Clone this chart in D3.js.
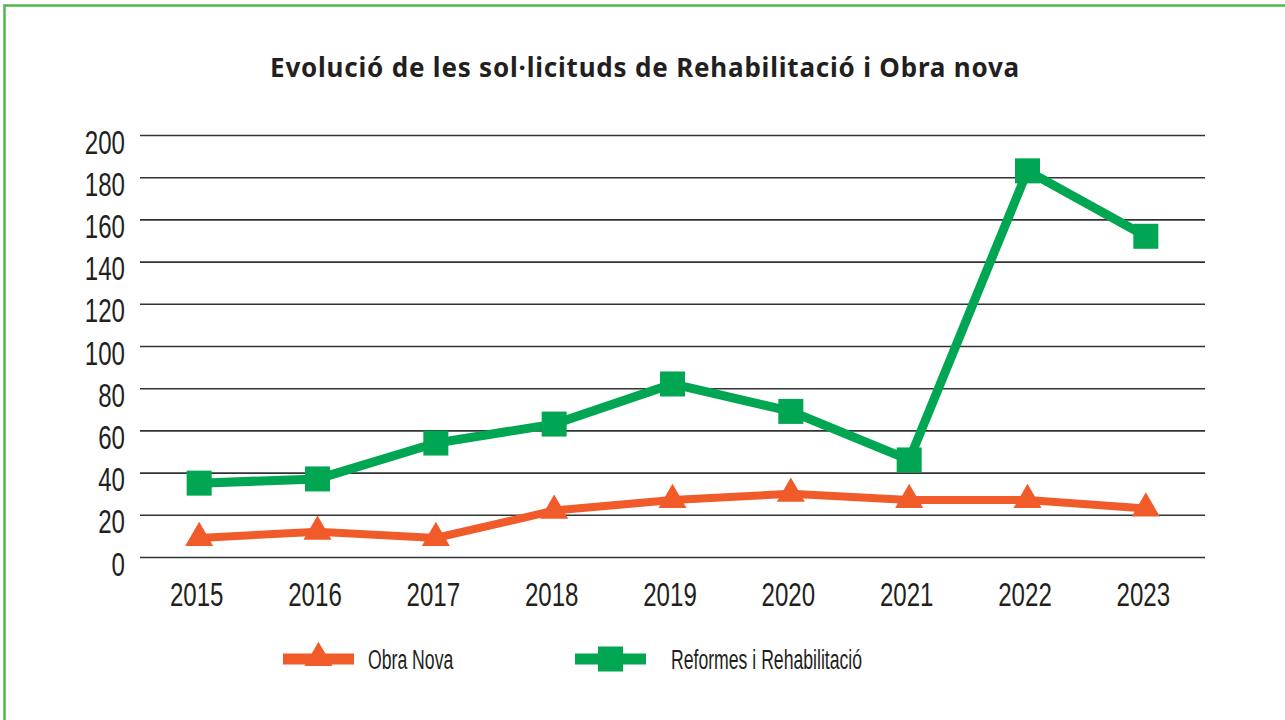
<html><head>
<meta charset="UTF-8">
<title>Evolució de les sol·licituds</title>
<style>
  body { margin: 0; padding: 0; background: #fff; overflow: hidden; }
  svg { display: block; }
  .tick text { font-family: "Liberation Sans Narrow", "Liberation Sans", sans-serif; fill: #231f20; }
</style>
</head>
<body>
<div id="chart"></div>
<script src="https://d3js.org/d3.v7.min.js"></script>
<script>
  const years = ["2015", "2016", "2017", "2018", "2019", "2020", "2021", "2022", "2023"];
  const obraNova = [9, 12, 9, 22, 27, 30, 27, 27, 23];
  const reformes = [35, 37, 54, 63, 82, 69, 46, 183, 152];
  const yTicks = [0, 20, 40, 60, 80, 100, 120, 140, 160, 180, 200];
  const seriesNames = ["Obra Nova", "Reformes i Rehabilitació"];
  const title = "Evolució de les sol·licituds de Rehabilitació i Obra nova";

  const width = 1285, height = 720;
  const plotLeft = 140, plotRight = 1205, plotTop = 135, plotBottom = 557;
  const orange = "#f15a29", green = "#00a651";
  const squeeze = 0.73; // condensed look for the labels
  const legSqueeze = 0.63;

  const svg = d3.select("#chart").append("svg")
    .attr("width", width)
    .attr("height", height);

  // green frame round the whole chart
  svg.append("rect")
    .attr("x", 4.5).attr("y", 5.5)
    .attr("width", width + 10).attr("height", height + 10)
    .attr("fill", "none")
    .attr("stroke", "#4db848")
    .attr("stroke-width", 2.5);

  svg.append("text")
    .attr("x", 645).attr("y", 77)
    .attr("text-anchor", "middle")
    .attr("font-family", "'Noto Sans', sans-serif")
    .attr("font-weight", "bold")
    .attr("font-size", 26)
    .attr("letter-spacing", 0.8)
    .attr("fill", "#231f20")
    .text(title);

  const x = d3.scalePoint().domain(years).range([plotLeft, plotRight]).padding(0.5);
  const y = d3.scaleLinear().domain([0, 200]).range([plotBottom, plotTop]);

  // grid + y labels
  const yAxis = svg.append("g")
    .attr("transform", `translate(${plotLeft},0)`)
    .call(d3.axisLeft(y).tickValues(yTicks).tickSize(-(plotRight - plotLeft)));
  yAxis.select(".domain").remove();
  yAxis.selectAll(".tick line").attr("stroke", "#333").attr("stroke-width", 1.6);
  yAxis.selectAll(".tick text")
    .attr("font-size", 33)
    .attr("x", -15 / squeeze)
    .attr("dy", "0.55em")
    .attr("transform", `scale(${squeeze},1)`);

  // x labels
  const xAxis = svg.append("g")
    .attr("transform", `translate(0,${plotBottom})`)
    .call(d3.axisBottom(x).tickSize(0).tickPadding(26));
  xAxis.select(".domain").remove();
  xAxis.selectAll(".tick text")
    .attr("font-size", 33)
    .attr("transform", `scale(${squeeze},1)`)
    .attr("x", -3 / squeeze);

  const line = d3.line().x((d, i) => x(years[i])).y(d => y(d));
  const tri = d3.symbol().type(d3.symbolTriangle).size(340);

  // green series
  svg.append("path").datum(reformes)
    .attr("d", line).attr("fill", "none")
    .attr("stroke", green).attr("stroke-width", 9).attr("stroke-linejoin", "miter");
  svg.selectAll(".sq").data(reformes).enter().append("rect")
    .attr("class", "sq")
    .attr("x", (d, i) => x(years[i]) - 12.5)
    .attr("y", d => y(d) - 12.5)
    .attr("width", 25).attr("height", 25)
    .attr("fill", green);

  // orange series
  svg.append("path").datum(obraNova)
    .attr("d", line).attr("fill", "none")
    .attr("stroke", orange).attr("stroke-width", 8);
  svg.selectAll(".tri").data(obraNova).enter().append("path")
    .attr("class", "tri")
    .attr("d", tri)
    .attr("transform", (d, i) => `translate(${x(years[i])},${y(d)})`)
    .attr("fill", orange);

  // legend
  const legend = [
    { name: seriesNames[0], color: orange, x0: 283, tx: 368, shape: "tri" },
    { name: seriesNames[1], color: green, x0: 575, tx: 671, shape: "sq" }
  ];
  const ly = 659;
  legend.forEach(l => {
    svg.append("line")
      .attr("x1", l.x0).attr("x2", l.x0 + 71)
      .attr("y1", ly).attr("y2", ly)
      .attr("stroke", l.color).attr("stroke-width", 11);
    const cx = l.x0 + 35.5;
    if (l.shape === "tri") {
      svg.append("path").attr("d", tri)
        .attr("transform", `translate(${cx},${ly - 1})`)
        .attr("fill", l.color);
    } else {
      svg.append("rect")
        .attr("x", cx - 12.5).attr("y", ly - 12.5)
        .attr("width", 25).attr("height", 25)
        .attr("fill", l.color);
    }
    svg.append("text")
      .attr("x", l.tx / legSqueeze).attr("y", ly + 10)
      .attr("transform", `scale(${legSqueeze},1)`)
      .attr("font-family", "'Liberation Sans Narrow', 'Liberation Sans', sans-serif")
      .attr("font-size", 28)
      .attr("fill", "#231f20")
      .text(l.name);
  });
</script>
</body></html>
